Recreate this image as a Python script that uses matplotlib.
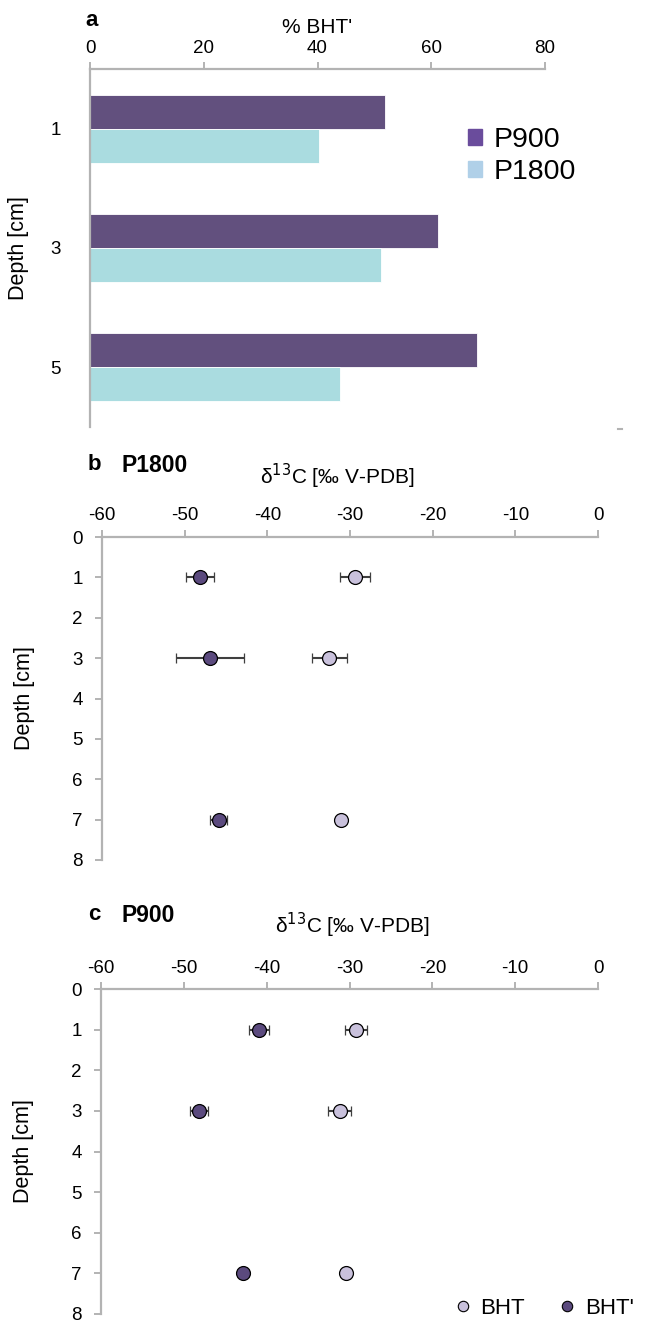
import numpy as np
import matplotlib.pyplot as plt
from matplotlib.lines import Line2D
from matplotlib.patches import Patch

plt.rcParams['font.family'] = ['Liberation Sans', 'DejaVu Sans']
plt.rcParams['axes.unicode_minus'] = False

# panel a: % BHT'
depth_a = ['1', '3', '5']
p900 = [51.9, 61.2, 68.1]
p1800 = [40.2, 51.2, 43.9]

# panel b: P1800, d13C
depth_b = [1, 3, 7]
bht_b = [-29.4, -32.5, -31.1]
bht_b_err = [1.8, 2.1, 0.0]
bhtp_b = [-48.1, -46.9, -45.9]
bhtp_b_err = [1.7, 4.1, 1.0]

# panel c: P900, d13C
depth_c = [1, 3, 7]
bht_c = [-29.2, -31.2, -30.4]
bht_c_err = [1.3, 1.4, 0.0]
bhtp_c = [-40.9, -48.2, -42.8]
bhtp_c_err = [1.2, 1.1, 0.0]

c_p900 = '#62507e'
c_p1800 = '#aadce0'
c_bht = '#c9c1dc'
c_bhtp = '#5b4a7e'
grey = '#b3b3b3'

W, H = 646, 1322
fig = plt.figure(figsize=(W / 100, H / 100), dpi=100)


def box(l, r, t, b):
    return [l / W, 1 - b / H, (r - l) / W, (b - t) / H]


def style(ax):
    for s in ['right', 'bottom']:
        ax.spines[s].set_visible(False)
    for s in ['top', 'left']:
        ax.spines[s].set_color(grey)
        ax.spines[s].set_linewidth(1.6)
    ax.xaxis.tick_top()
    ax.tick_params(axis='both', colors=grey, labelcolor='black',
                   labelsize=13.5, width=1.4, length=5)


# ---- a ----
ax = fig.add_axes(box(90, 545, 69, 427))
y = np.arange(len(depth_a))
h = 0.285
ax.barh(y - h / 2, p900, height=h, color=c_p900, edgecolor='white', linewidth=0.6)
ax.barh(y + h / 2, p1800, height=h, color=c_p1800, edgecolor='white', linewidth=0.6)
ax.set_xlim(0, 80)
ax.set_ylim(2.5, -0.5)
ax.set_xticks([0, 20, 40, 60, 80])
ax.set_yticks(y)
ax.set_yticklabels(depth_a)
style(ax)
ax.tick_params(axis='y', length=0, pad=21)
ax.set_xlabel("% BHT'", fontsize=15, labelpad=5)
ax.xaxis.set_label_position('top')
ax.set_ylabel('Depth [cm]', fontsize=15.5)
ax.yaxis.set_label_coords(-0.134, 0.5)
ax.legend(handles=[Patch(color='#6a4c9c', label='P900'),
                   Patch(color='#b0d0e8', label='P1800')],
          loc='center left', bbox_to_anchor=(0.8, 0.757), frameon=False,
          fontsize=20.5, handlelength=0.5, handleheight=0.5, handletextpad=0.4,
          labelspacing=0.2, borderpad=0)
fig.text(85 / W, 1 - 20 / H, 'a', fontsize=16, fontweight='bold', va='center')
fig.add_artist(Line2D([618 / W, 622 / W], [1 - 429 / H] * 2, color=grey, lw=1.5))


def iso_panel(rect, depth, bht, bht_err, bhtp, bhtp_err, letter, name, lab_x, lab_y, title_y):
    ax = fig.add_axes(rect)
    ax.errorbar(bhtp, depth, xerr=bhtp_err, fmt='o', color='#3f3f3f', ms=10,
                mfc=c_bhtp, mec='black', mew=0.9, capsize=3.5, elinewidth=1.5, capthick=1.5)
    ax.errorbar(bht, depth, xerr=bht_err, fmt='o', color='#3f3f3f', ms=10,
                mfc=c_bht, mec='black', mew=0.9, capsize=3.5, elinewidth=1.5, capthick=1.5)
    ax.set_xlim(-60, 0)
    ax.set_ylim(8, 0)
    ax.set_xticks(np.arange(-60, 1, 10))
    ax.set_yticks(np.arange(0, 9))
    style(ax)
    ax.tick_params(axis='x', pad=4)
    ax.tick_params(axis='y', pad=9)
    ax.set_ylabel('Depth [cm]', fontsize=15.5)
    ax.yaxis.set_label_coords(-0.135, 0.5)
    fig.text(lab_x / W, 1 - lab_y / H, r'δ$^{13}$C [‰ V-PDB]', fontsize=15,
             ha='center', va='center')
    fig.text(88 / W, 1 - title_y / H, letter, fontsize=16,
             fontweight='bold', va='center')
    fig.text(122 / W, 1 - title_y / H, name, fontsize=16.5,
             fontweight='bold', va='center')
    return ax


iso_panel(box(102, 598, 537, 860), depth_b, bht_b, bht_b_err, bhtp_b, bhtp_b_err,
          'b', 'P1800', 337, 476, 465)
axc = iso_panel(box(101, 598, 989, 1314), depth_c, bht_c, bht_c_err, bhtp_c, bhtp_c_err,
                'c', 'P900', 352, 925, 915)
axc.legend(handles=[Line2D([], [], ls='', marker='o', ms=7.5, mfc=c_bht, mec='black', mew=0.8, label='BHT'),
                    Line2D([], [], ls='', marker='o', ms=7.5, mfc=c_bhtp, mec='black', mew=0.8, label="BHT'")],
           loc='center right', bbox_to_anchor=(1.095, 0.018), ncol=2, frameon=False,
           fontsize=16, handletextpad=0.3, columnspacing=1.4, handlelength=1.0, borderpad=0)

fig.savefig('out.png', dpi=100)
